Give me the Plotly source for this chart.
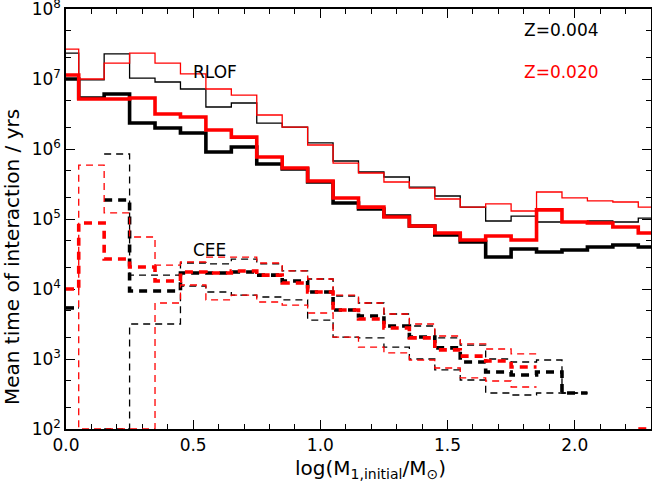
import plotly.graph_objects as go

# bin centres in log(M1,initial/Msun)
centres = [0.0, 0.1, 0.2, 0.3, 0.4, 0.5, 0.6, 0.7, 0.8, 0.9, 1.0, 1.1,
           1.2, 1.3, 1.4, 1.5, 1.6, 1.7, 1.8, 1.9, 2.0, 2.1, 2.2, 2.3]
half_bin = 0.05
x_max = 2.3
floor = 100  # empty bins sit on the bottom of the plot

# RLOF, Z=0.004 (black) and Z=0.020 (red)
rlof_z004_thin = [2.35e7, 9.7e6, 2.28e7, 1.03e7, 9.06e6, 7.2e6, 3.98e6, 4.54e6,
                  2.35e6, 2.06e6, 1.22e6, 6.74e5, 4.69e5, 3.98e5, 2.86e5, 2.13e5,
                  1.48e5, 9.36e4, 1.1e5, 9.06e4, 9.06e4, 9.36e4, 9.06e4, 1.03e5]
rlof_z004_thick = [1.0e7, 5.36e6, 6.11e6, 2.35e6, 2.0e6, 1.69e6, 9.06e5, 1.07e6,
                   6.11e5, 5.18e5, 3.38e5, 1.69e5, 1.39e5, 1.1e5, 7.94e4, 5.9e4,
                   4.69e4, 2.86e4, 3.73e4, 3.38e4, 3.6e4, 3.98e4, 4.25e4, 3.98e4]
rlof_z020_thin = [2.68e7, 1.0e7, 1.69e7, 2.35e7, 1.69e7, 1.18e7, 7.2e6, 5.9e6,
                  3.06e6, 2.06e6, 1.14e6, 6.3e5, 4.54e5, 3.38e5, 2.77e5, 1.93e5,
                  1.48e5, 1.64e5, 1.3e5, 2.43e5, 2.0e5, 1.81e5, 1.75e5, 1.48e5]
rlof_z020_thick = [1.14e7, 5.18e6, 5.18e6, 5.36e6, 3.16e6, 2.86e6, 1.87e6, 1.48e6,
                   7.69e5, 5.36e5, 3.49e5, 2.0e5, 1.48e5, 1.07e5, 7.94e4, 6.3e4,
                   5.0e4, 5.71e4, 5.0e4, 1.35e5, 9.06e4, 8.77e4, 7.69e4, 6.3e4]

# CEE, upper / mean / lower
cee_z004_up = [5.36e3, None, 8.49e5, 1.58e4, 1.58e4, 2.35e4, 2.28e4, 2.68e4,
               2.28e4, 1.81e4, 1.39e4, 7.94e3, 6.31e3, 4.39e3, 2.96e3, 2.0e3,
               1.58e3, 1.0e3, 906, 968, 327, None, None, None]
cee_z004_mean = [5.36e3, None, 1.87e5, 9.36e3, 9.36e3, 1.69e4, 1.69e4, 1.75e4,
                 1.58e4, 1.3e4, 9.06e3, 5.0e3, 4.11e3, 2.96e3, 2.06e3, 1.44e3,
                 906, 652, 590, 652, 327, None, None, None]
cee_z004_low = [5.36e3, None, floor, 3.16e3, 3.16e3, 1.1e4, 9.06e3, 8.2e3,
                7.69e3, 6.97e3, 3.6e3, 2.06e3, 2.0e3, 1.48e3, 1.0e3, 697,
                501, 327, 306, 327, 327, None, None, None]
cee_z020_up = [1.0e4, 5.9e5, 1.22e5, 5.53e4, 2.2e4, 2.43e4, 2.86e4, 2.86e4,
               2.35e4, 1.81e4, 1.39e4, 8.2e3, 6.31e3, 4.39e3, 3.16e3, 2.13e3,
               1.64e3, 1.39e3, 1.18e3, None, None, None, None, None]
cee_z020_mean = [1.0e4, 8.77e4, 2.68e4, 2.06e4, 1.3e4, 1.75e4, 1.69e4, 1.81e4,
                 1.58e4, 1.22e4, 9.06e3, 5.0e3, 3.73e3, 2.77e3, 2.0e3, 1.35e3,
                 1.1e3, 936, 769, None, None, None, None, floor]
cee_z020_low = [1.0e4, floor, floor, floor, 6.31e3, 1.14e4, 6.97e3, 8.2e3,
                6.52e3, 5.9e3, 4.54e3, 2.06e3, 1.48e3, 1.22e3, 968, 744,
                536, 485, 398, None, None, None, None, None]


def steps(vals):
    xs, ys = [], []
    for c, v in zip(centres, vals):
        if v is None:
            xs.append(None)
            ys.append(None)
            continue
        xs += [max(c - half_bin, 0), min(c + half_bin, x_max)]
        ys += [v, v]
    return xs, ys


fig = go.Figure()

thin_dash = "7px,5px"
thick_dash = "8px,6px"
series = [
    (rlof_z004_thin, "black", 1.3, "solid"),
    (rlof_z004_thick, "black", 3.6, "solid"),
    (rlof_z020_thin, "red", 1.3, "solid"),
    (rlof_z020_thick, "red", 3.6, "solid"),
    (cee_z004_up, "black", 1.3, thin_dash),
    (cee_z004_low, "black", 1.3, thin_dash),
    (cee_z004_mean, "black", 3.6, thick_dash),
    (cee_z020_up, "red", 1.3, thin_dash),
    (cee_z020_low, "red", 1.3, thin_dash),
    (cee_z020_mean, "red", 3.6, thick_dash),
]
for vals, col, w, dash in series:
    xs, ys = steps(vals)
    fig.add_trace(go.Scatter(x=xs, y=ys, mode="lines", connectgaps=False,
                             line=dict(color=col, width=w, dash=dash),
                             showlegend=False, hoverinfo="skip"))

txt = dict(family="DejaVu Sans", size=17)
fig.add_annotation(x=0.587, y=7.104, text="RLOF", showarrow=False,
                   font=dict(color="black", **txt))
fig.add_annotation(x=0.565, y=4.557, text="CEE", showarrow=False,
                   font=dict(color="black", **txt))
fig.add_annotation(x=1.947, y=7.7, text="Z=0.004", showarrow=False,
                   font=dict(color="black", **txt))
fig.add_annotation(x=1.947, y=7.104, text="Z=0.020", showarrow=False,
                   font=dict(color="red", **txt))

# axis titles, placed where the original puts them
fig.add_annotation(xref="paper", yref="paper", x=0.52, y=-0.096,
                   xanchor="center", yanchor="middle",
                   text="log(M<sub>1,initial</sub>/M<sub>⊙</sub>)",
                   showarrow=False, font=dict(family="DejaVu Sans", size=20))
fig.add_annotation(xref="paper", yref="paper", x=-0.092, y=0.41, textangle=-90,
                   xanchor="center", yanchor="middle",
                   text="Mean time of interaction / yrs",
                   showarrow=False, font=dict(family="DejaVu Sans", size=20))

ytick_vals = [1e2, 1e3, 1e4, 1e5, 1e6, 1e7, 1e8]
ytick_text = ["10<sup>2</sup>", "10<sup>3</sup>", "10<sup>4</sup>", "10<sup>5</sup>",
              "10<sup>6</sup>", "10<sup>7</sup>", "10<sup>8</sup>"]

fig.update_layout(
    width=652, height=486,
    margin=dict(l=66, r=1, t=9, b=57),
    paper_bgcolor="white", plot_bgcolor="white",
    font=dict(family="DejaVu Sans", size=16, color="black"),
)
fig.update_xaxes(
    range=[0, x_max], dtick=0.5, tickformat=".1f", automargin=False,
    showline=True, linecolor="black", linewidth=1.5, mirror="ticks",
    ticks="inside", ticklen=9, tickwidth=1.3, tickcolor="black",
    tickfont=dict(size=17),
    minor=dict(dtick=0.1, ticks="inside", ticklen=5, tickcolor="black"),
    showgrid=False, zeroline=False, layer="below traces",
)
fig.update_yaxes(
    type="log", range=[1.9999, 8.0001], tickvals=ytick_vals, ticktext=ytick_text,
    automargin=False, ticklabeloverflow="allow",
    showline=True, linecolor="black", linewidth=1.5, mirror="ticks",
    ticks="inside", ticklen=9, tickwidth=1.3, tickcolor="black",
    tickfont=dict(size=17),
    minor=dict(ticks="inside", ticklen=5, tickcolor="black"),
    showgrid=False, zeroline=False, layer="below traces",
)

# drop the page's default body margin so the figure sits at the window origin
fig.write_html("out.html", config={"displayModeBar": False},
               post_script="document.body.style.margin='0';")
